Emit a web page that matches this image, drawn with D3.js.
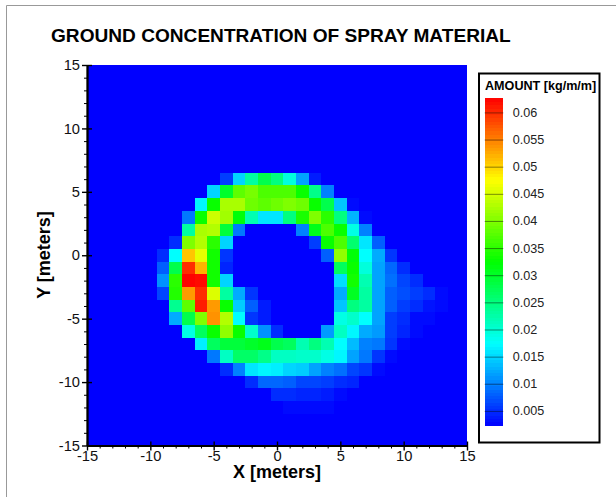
<!DOCTYPE html>
<html>
<head>
<meta charset="utf-8">
<script src="https://cdn.jsdelivr.net/npm/d3@7"></script>
<style>
    html, body { margin: 0; padding: 0; background: #fff; }
    svg { display: block; }
    text { font-family: "Liberation Sans", Arial, sans-serif; }
</style>
</head>
<body>
<div id="chart"></div>
<script>
const xBins = [-9, -8, -7, -6, -5, -4, -3, -2, -1, 0, 1, 2, 3, 4, 5, 6, 7, 8, 9, 10, 11, 12, 13];
const yBins = [6, 5, 4, 3, 2, 1, 0, -1, -2, -3, -4, -5, -6, -7, -8, -9, -10, -11, -12];

// amounts in thousandths of kg/m/m, one row per yBins entry
const amounts = [
    [0, 0, 0, 0, 0, 6, 15, 23, 28, 25, 19.5, 12, 4, 0, 0, 0, 0, 0, 0, 0, 0, 0, 0],
    [0, 0, 0, 0, 15, 30, 38, 39.5, 37, 37, 37, 33, 24.5, 10, 0, 0, 0, 0, 0, 0, 0, 0, 0],
    [0, 0, 0, 17, 33, 42.5, 42.5, 39, 38, 39, 40, 39, 33, 28, 14, 3, 0, 0, 0, 0, 0, 0, 0],
    [0, 0, 9.5, 33, 44.5, 42, 32, 22, 16, 16, 25, 34, 40, 35, 25, 13, 3, 0, 0, 0, 0, 0, 0],
    [0, 0, 23, 42.5, 43, 29, 9.5, 0, 0, 0, 0, 10, 31, 37, 33, 19, 10, 0, 0, 0, 0, 0, 0],
    [0, 5, 40, 43, 35, 15, 0, 0, 0, 0, 0, 0, 6, 33, 37, 26, 16, 8, 0, 0, 0, 0, 0],
    [5, 17.5, 51, 46, 33.5, 5.5, 0, 0, 0, 0, 0, 0, 0, 8, 41, 32, 17.5, 12.5, 5.5, 0, 0, 0, 0],
    [8, 28, 60, 52, 33.5, 4.5, 0, 0, 0, 0, 0, 0, 0, 0, 27, 33, 19.5, 12, 8.5, 5, 0, 0, 0],
    [11, 35, 62.5, 62, 33.5, 15, 0, 0, 0, 0, 0, 0, 0, 0, 15.5, 33.5, 22, 12, 9, 6.5, 5, 0, 0],
    [6.5, 34.5, 53.5, 60, 45.5, 23, 12.5, 5.5, 0, 0, 0, 0, 0, 0, 12.5, 30.5, 23, 12, 8, 7, 6, 5, 3],
    [0, 24, 38, 61, 53.5, 33, 14.5, 8, 4, 0, 0, 0, 0, 0, 14, 25, 23, 12, 8, 6, 5, 3.5, 3],
    [0, 12.5, 28, 40, 54, 43, 17.5, 5.5, 4, 0, 0, 0, 0, 0, 19, 20.5, 17.5, 12, 6, 5, 3, 3, 0],
    [0, 0, 19, 27, 33, 41, 33, 20.5, 11, 5, 0, 0, 0, 11.5, 21, 17, 12.5, 11.5, 6, 4.5, 3, 0, 0],
    [0, 0, 0, 16.5, 27, 29, 29, 30, 31, 28, 27, 22, 25, 22, 17.5, 13.5, 10, 9.5, 5.5, 3, 0, 0, 0],
    [0, 0, 0, 0, 9.5, 21, 26.5, 26.5, 24.5, 21, 21, 20.5, 20.5, 19, 17, 12, 9.5, 5.5, 3, 0, 0, 0, 0],
    [0, 0, 0, 0, 0, 5, 10, 16, 17, 16.5, 15, 14.5, 12, 10, 9, 6.5, 5.5, 3, 0, 0, 0, 0, 0],
    [0, 0, 0, 0, 0, 0, 0, 5, 8.5, 8.5, 8, 6.5, 6.5, 6, 5, 4.5, 0, 0, 0, 0, 0, 0, 0],
    [0, 0, 0, 0, 0, 0, 0, 0, 0, 5, 5, 4.5, 4.5, 4, 3, 0, 0, 0, 0, 0, 0, 0, 0],
    [0, 0, 0, 0, 0, 0, 0, 0, 0, 0, 3, 3, 3, 3, 0, 0, 0, 0, 0, 0, 0, 0, 0]
];

const axisTicks = [-15, -10, -5, 0, 5, 10, 15];
const axisMinorTicks = [-14, -13, -12, -11, -9, -8, -7, -6, -4, -3, -2, -1, 1, 2, 3, 4, 6, 7, 8, 9, 11, 12, 13, 14];
const legendTicks = [0.005, 0.01, 0.015, 0.02, 0.025, 0.03, 0.035, 0.04, 0.045, 0.05, 0.055, 0.06];
const paletteColors = ["#0000ff", "#00ffff", "#00ff00", "#ffff00", "#ff0000"];
const amountMin = 0.0024;
const amountMax = 0.0626;

const width = 616;
const height = 497;

const svg = d3.select("#chart").append("svg")
    .attr("width", width)
    .attr("height", height);

// thin grey frame, the right and bottom sides fall outside the picture
svg.append("path")
    .attr("d", `M6.5,${height} V5.5 H${width}`)
    .attr("fill", "none")
    .attr("stroke", "#999")
    .attr("stroke-width", 1);

const xScale = d3.scaleLinear().domain([-15, 15]).range([87, 467]);
const yScale = d3.scaleLinear().domain([-15, 15]).range([445.5, 65]);

const colorScale = d3.scaleLinear()
    .domain(d3.range(paletteColors.length).map(i => amountMin + i * (amountMax - amountMin) / (paletteColors.length - 1)))
    .range(paletteColors)
    .clamp(true);

svg.append("rect")
    .attr("x", xScale(-15))
    .attr("y", yScale(15))
    .attr("width", xScale(15) - xScale(-15))
    .attr("height", yScale(-15) - yScale(15))
    .attr("fill", "#0000ff");

const cells = [];
yBins.forEach((y, r) => {
    xBins.forEach((x, c) => {
        if (amounts[r][c] > 0) cells.push({ x: x, y: y, amount: amounts[r][c] / 1000 });
    });
});

svg.append("g")
    .attr("shape-rendering", "crispEdges")
    .selectAll("rect")
    .data(cells)
    .enter().append("rect")
    .attr("x", d => xScale(d.x - 0.5))
    .attr("y", d => yScale(d.y + 0.5))
    .attr("width", d => xScale(d.x + 0.5) - xScale(d.x - 0.5))
    .attr("height", d => yScale(d.y - 0.5) - yScale(d.y + 0.5))
    .attr("fill", d => colorScale(d.amount));

drawAxes();
drawLegend();

svg.append("text")
    .attr("x", 51)
    .attr("y", 42)
    .attr("font-size", 19.1)
    .attr("font-weight", "bold")
    .attr("fill", "#000")
    .text("GROUND CONCENTRATION OF SPRAY MATERIAL");

svg.append("text")
    .attr("x", 277)
    .attr("y", 478)
    .attr("text-anchor", "middle")
    .attr("font-size", 18)
    .attr("font-weight", "bold")
    .text("X [meters]");

svg.append("text")
    .attr("transform", "translate(50,255) rotate(-90)")
    .attr("text-anchor", "middle")
    .attr("font-size", 18)
    .attr("font-weight", "bold")
    .text("Y [meters]");

function drawAxes() {
    const xMinor = d3.axisBottom(xScale).tickValues(axisMinorTicks).tickSize(3).tickSizeOuter(0).tickFormat("");
    const yMinor = d3.axisLeft(yScale).tickValues(axisMinorTicks).tickSize(3).tickSizeOuter(0).tickFormat("");
    const xMajor = d3.axisBottom(xScale).tickValues(axisTicks).tickSize(5).tickSizeOuter(0).tickFormat(d => String(d));
    const yMajor = d3.axisLeft(yScale).tickValues(axisTicks).tickSize(5).tickSizeOuter(0).tickFormat(d => String(d));

    const xGroups = [xMinor, xMajor].map(axis => styleAxis(svg.append("g")
        .attr("transform", `translate(0,${yScale(-15)})`)
        .call(axis)));
    const yGroups = [yMinor, yMajor].map(axis => styleAxis(svg.append("g")
        .attr("transform", `translate(${xScale(-15)},0)`)
        .call(axis)));

    // major ticks cross the axis line
    xGroups[1].selectAll(".tick line").attr("y1", -4).attr("stroke-width", 1.4);
    xGroups[1].selectAll("text").attr("y", 5).attr("dy", "0.71em");
    yGroups[1].selectAll(".tick line").attr("x2", 5).attr("x1", -5).attr("stroke-width", 1.4);
    yGroups[1].selectAll("text").attr("x", -7);
}

function styleAxis(g) {
    g.select(".domain")
        .attr("stroke", "#000")
        .attr("stroke-width", 1.8);
    g.selectAll(".tick line").attr("stroke", "#000").attr("stroke-width", 1);
    g.selectAll("text")
        .attr("font-size", 14.7)
        .attr("fill", "#111")
        .attr("font-family", "Liberation Sans");
    return g;
}

function drawLegend() {
    const legendScale = d3.scaleLinear()
        .domain([amountMin, amountMax])
        .range([425, 98.3]);

    svg.append("rect")
        .attr("x", 479)
        .attr("y", 73.5)
        .attr("width", 120.5)
        .attr("height", 369)
        .attr("fill", "#fff")
        .attr("stroke", "#000")
        .attr("stroke-width", 2);

    svg.append("text")
        .attr("x", 485)
        .attr("y", 90)
        .attr("font-size", 12.6)
        .attr("font-weight", "bold")
        .text("AMOUNT [kg/m/m]");

    const bands = d3.range(100).map(i => amountMin + (i / 100) * (amountMax - amountMin));
    const bandStep = (amountMax - amountMin) / 100;

    svg.append("g")
        .attr("shape-rendering", "crispEdges")
        .selectAll("rect")
        .data(bands)
        .enter().append("rect")
        .attr("x", 484.7)
        .attr("width", 18.6)
        .attr("y", d => legendScale(d + bandStep))
        .attr("height", d => legendScale(d) - legendScale(d + bandStep) + 0.5)
        .attr("fill", d => colorScale(d + bandStep / 2));

    const axis = d3.axisRight(legendScale)
        .tickValues(legendTicks)
        .tickSize(18.6)
        .tickFormat(d3.format("~g"));

    const g = svg.append("g")
        .attr("transform", "translate(484.7,0)")
        .call(axis);
    g.select(".domain").remove();
    g.selectAll(".tick line").attr("stroke", "#000").attr("stroke-opacity", 0.45).attr("stroke-width", 1);
    g.selectAll("text")
        .attr("x", 28)
        .attr("font-size", 12.6)
        .attr("fill", "#222")
        .attr("font-family", "Liberation Sans");
}
</script>
</body>
</html>
